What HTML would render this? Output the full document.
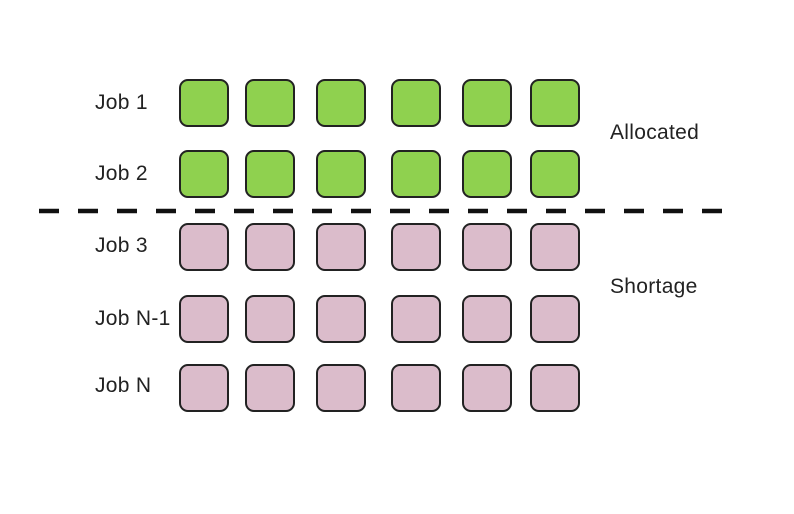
<!DOCTYPE html>
<html><head><style>
body{margin:0;width:794px;height:514px;background:#fff;overflow:hidden;position:relative;font-family:"Liberation Sans",sans-serif}
.b{position:absolute;width:46px;height:44px;border:2px solid #222;border-radius:9px;box-sizing:content-box}
.g{background:#8fd14f}.p{background:#dbbccb}
.t{position:absolute;font-size:21px;color:#222;line-height:20px;letter-spacing:0.3px}
</style></head><body>
<svg style="position:absolute;left:0;top:0" width="794" height="514"><line x1="39" y1="211" x2="722" y2="211" stroke="#111" stroke-width="4.5" stroke-dasharray="20 19"/></svg>
<div class="t" style="left:95px;top:93px">Job 1</div>
<div class="t" style="left:95px;top:164px">Job 2</div>
<div class="t" style="left:95px;top:236px">Job 3</div>
<div class="t" style="left:95px;top:309px">Job N-1</div>
<div class="t" style="left:95px;top:376px">Job N</div>
<div class="t" style="left:610px;top:123px">Allocated</div>
<div class="t" style="left:610px;top:277px">Shortage</div>
<div id="c"></div>
<script>
var xs=[179,245,316,391,462,530],ys=[79,150,223,295,364],h='';
ys.forEach(function(y,i){xs.forEach(function(x){h+='<div class="b '+(i<2?'g':'p')+'" style="left:'+x+'px;top:'+y+'px"></div>';});});
document.getElementById('c').innerHTML=h;
</script>
</body></html>
